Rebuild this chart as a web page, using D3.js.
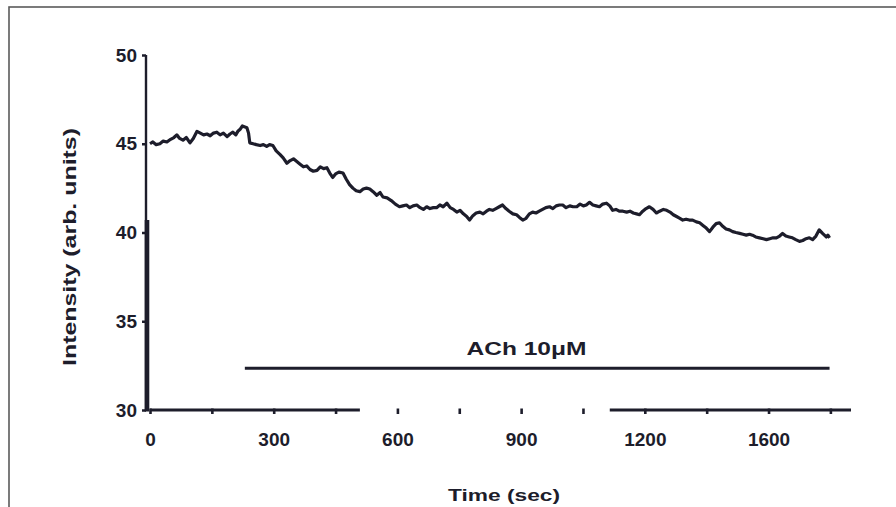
<!DOCTYPE html>
<html>
<head>
<meta charset="utf-8">
<script src="https://cdn.jsdelivr.net/npm/d3@7"></script>
<style>
  body { margin: 0; background: #ffffff; }
  svg { display: block; }
  text { font-family: "Liberation Sans", Arial, sans-serif; font-weight: bold; fill: #1d1d2b; }
</style>
</head>
<body>
<svg id="chart" width="896" height="507"></svg>
<script>
// Fluorescence intensity recording (arb. units) over time (sec)
const timeSec = [
  0, 7, 15, 24, 32, 41, 50, 58, 65, 72, 80, 88, 97, 105, 114, 122, 130, 138, 146, 154,
  162, 170, 178, 187, 194, 201, 208, 213, 218, 224, 230, 235, 239, 242,
  250, 258, 267, 275, 283, 290, 298, 306, 315, 323, 332, 340, 348, 356, 364, 372,
  380, 388, 396, 405, 413, 421, 429, 436, 443, 450, 458, 468, 476, 484, 492, 500,
  509, 517, 525, 533, 541, 550, 558,
  565, 575, 585, 595, 605, 613, 622, 630, 638, 647, 655, 663, 671, 679, 687, 695,
  703, 711, 720, 728, 736, 744, 752, 760, 768, 775, 783, 791, 800, 808, 816, 823,
  831, 839, 847, 855, 863, 871, 880, 889, 896, 904, 912, 920, 928, 936, 944, 952,
  960, 969, 977, 985, 993, 1001, 1009, 1018, 1026, 1035, 1043, 1051, 1058, 1066,
  1074, 1082, 1090, 1098,
  1107, 1115, 1122, 1130, 1138, 1147, 1156, 1164, 1172, 1180, 1187, 1195, 1203,
  1211, 1220, 1228, 1236, 1245, 1253, 1261, 1269, 1277, 1285, 1292, 1300, 1308,
  1316, 1325, 1333, 1341, 1349, 1357, 1365, 1373, 1381, 1389, 1397, 1405, 1413,
  1421, 1430, 1438, 1446, 1454, 1461, 1469, 1478, 1487, 1495, 1503, 1511, 1519,
  1527, 1534, 1542, 1550, 1558, 1566, 1575, 1583, 1591, 1599, 1607, 1615, 1623,
  1631, 1640, 1644, 1648
];
const intensity = [
  45.0, 45.1, 44.95, 45.0, 45.15, 45.1, 45.25, 45.35, 45.5, 45.3, 45.2, 45.35, 45.05, 45.3, 45.7, 45.6, 45.5, 45.55, 45.45, 45.6,
  45.65, 45.5, 45.6, 45.4, 45.55, 45.65, 45.5, 45.7, 45.8, 46.0, 45.95, 45.9, 45.6, 45.05,
  45.0, 44.95, 44.9, 44.95, 44.85, 44.95, 44.9, 44.6, 44.4, 44.2, 43.9, 44.05, 44.15, 44.0, 43.85, 43.7,
  43.75, 43.55, 43.45, 43.5, 43.7, 43.6, 43.65, 43.35, 43.1, 43.3, 43.4, 43.35, 43.0, 42.7, 42.5, 42.35,
  42.3, 42.45, 42.5, 42.45, 42.3, 42.1, 42.25,
  42.0, 41.95, 41.8, 41.6, 41.45, 41.5, 41.55, 41.4, 41.5, 41.55, 41.4, 41.3, 41.45, 41.35, 41.4, 41.4,
  41.55, 41.45, 41.65, 41.4, 41.3, 41.15, 41.25, 41.05, 40.9, 40.7, 40.95, 41.1, 41.15, 41.05, 41.2, 41.3,
  41.25, 41.35, 41.45, 41.55, 41.35, 41.2, 41.05, 41.0, 40.85, 40.7, 40.8, 41.05, 41.15, 41.1, 41.2, 41.3,
  41.4, 41.45, 41.35, 41.5, 41.55, 41.55, 41.4, 41.5, 41.45, 41.45, 41.6, 41.5, 41.55, 41.7,
  41.55, 41.5, 41.45, 41.6,
  41.65, 41.5, 41.25, 41.3, 41.2, 41.2, 41.15, 41.2, 41.1, 41.05, 41.0, 41.2, 41.35,
  41.45, 41.3, 41.1, 41.2, 41.3, 41.25, 41.15, 41.0, 40.9, 40.8, 40.7, 40.75, 40.7,
  40.7, 40.6, 40.55, 40.4, 40.25, 40.05, 40.3, 40.5, 40.55, 40.35, 40.2, 40.15, 40.05,
  40.0, 39.95, 39.9, 39.85, 39.9, 39.85, 39.75, 39.7, 39.65, 39.6, 39.65, 39.7, 39.7,
  39.8, 39.95, 39.8, 39.75, 39.7, 39.6, 39.5, 39.55, 39.65, 39.7, 39.6, 39.8, 40.15,
  39.95, 39.75, 39.85, 39.7
];

// Axis ticks and labels
const xTickValues = [0, 150, 300, 450, 600, 750, 900, 1050, 1200, 1350, 1500, 1650];
const xLabelValues = [0, 300, 600, 900, 1200, 1500];
const xTickLabels = ["0", "300", "600", "900", "1200", "1600"];
const yTickValues = [30, 35, 40, 45, 50];

// Drug application bar
const drugLabel = "ACh 10\u03bcM";
const drugPeriod = [230, 1648];
const drugLevel = 32.35;
const drugLabelAt = [913, 33.1];

// Visible stretches of the time axis line and the heavy part of the intensity axis
const xAxisRuns = [[0, 509], [1115, 1700]];
const yAxisHeavy = [30, 40.7];

const ink = "#1d1d2b";
const svg = d3.select("#chart");

// frame
svg.append("rect")
  .attr("x", 9).attr("y", 7).attr("width", 900).attr("height", 520)
  .attr("fill", "none").attr("stroke", "#5a5a5a").attr("stroke-width", 1.6);

const x = d3.scaleLinear().domain([0, 1700]).range([150, 851]);
const y = d3.scaleLinear().domain([30, 50]).range([410, 55]);

// x axis
const gx = svg.append("g").attr("transform", `translate(0,${y(30)})`)
  .call(d3.axisBottom(x).tickValues(xTickValues).tickSize(4).tickPadding(19)
    .tickFormat(d => {
      const i = xLabelValues.indexOf(d);
      return i >= 0 ? xTickLabels[i] : "";
    }));
gx.select(".domain").remove();
gx.selectAll(".tick line").attr("stroke", ink).attr("stroke-width", 2.6).attr("y1", -1.5);
gx.selectAll(".tick text").attr("font-size", 19).attr("fill", ink);

svg.append("g").selectAll("line").data(xAxisRuns).join("line")
  .attr("x1", d => x(d[0])).attr("x2", d => x(d[1]))
  .attr("y1", y(30)).attr("y2", y(30))
  .attr("stroke", ink).attr("stroke-width", 3.2);

// y axis
const gy = svg.append("g").attr("transform", `translate(${x(0) - 4},0)`)
  .call(d3.axisLeft(y).tickValues(yTickValues).tickSize(4).tickPadding(5).tickFormat(d3.format("d")));
gy.select(".domain").remove();
gy.selectAll(".tick line").attr("stroke", ink).attr("stroke-width", 2.5);
gy.selectAll(".tick text").attr("font-size", 19).attr("fill", ink);

svg.append("line")
  .attr("x1", x(0) - 4).attr("x2", x(0) - 4)
  .attr("y1", y(50)).attr("y2", y(30))
  .attr("stroke", ink).attr("stroke-width", 2.4);
svg.append("line")
  .attr("x1", x(0) - 3).attr("x2", x(0) - 3)
  .attr("y1", y(yAxisHeavy[1])).attr("y2", y(yAxisHeavy[0]) + 1.5)
  .attr("stroke", ink).attr("stroke-width", 4.6);

// intensity trace
const points = timeSec.map((t, i) => [t, intensity[i]]);
svg.append("path")
  .datum(points)
  .attr("fill", "none")
  .attr("stroke", ink)
  .attr("stroke-width", 3.2)
  .attr("stroke-linejoin", "round")
  .attr("d", d3.line().x(d => x(d[0])).y(d => y(d[1])));

// drug application bar and label
svg.append("line")
  .attr("x1", x(drugPeriod[0])).attr("x2", x(drugPeriod[1]))
  .attr("y1", y(drugLevel)).attr("y2", y(drugLevel))
  .attr("stroke", ink).attr("stroke-width", 3);
svg.append("text")
  .attr("x", x(drugLabelAt[0])).attr("y", y(drugLabelAt[1]))
  .attr("text-anchor", "middle").attr("font-size", 18)
  .attr("textLength", 120).attr("lengthAdjust", "spacingAndGlyphs")
  .text(drugLabel);

// axis titles
svg.append("text")
  .attr("x", 504).attr("y", 501)
  .attr("text-anchor", "middle").attr("font-size", 17)
  .attr("textLength", 112).attr("lengthAdjust", "spacingAndGlyphs")
  .text("Time (sec)");
svg.append("text")
  .attr("transform", "translate(76,247) rotate(-90)")
  .attr("text-anchor", "middle").attr("font-size", 18)
  .attr("textLength", 238).attr("lengthAdjust", "spacingAndGlyphs")
  .text("Intensity (arb. units)");
</script>
</body>
</html>
